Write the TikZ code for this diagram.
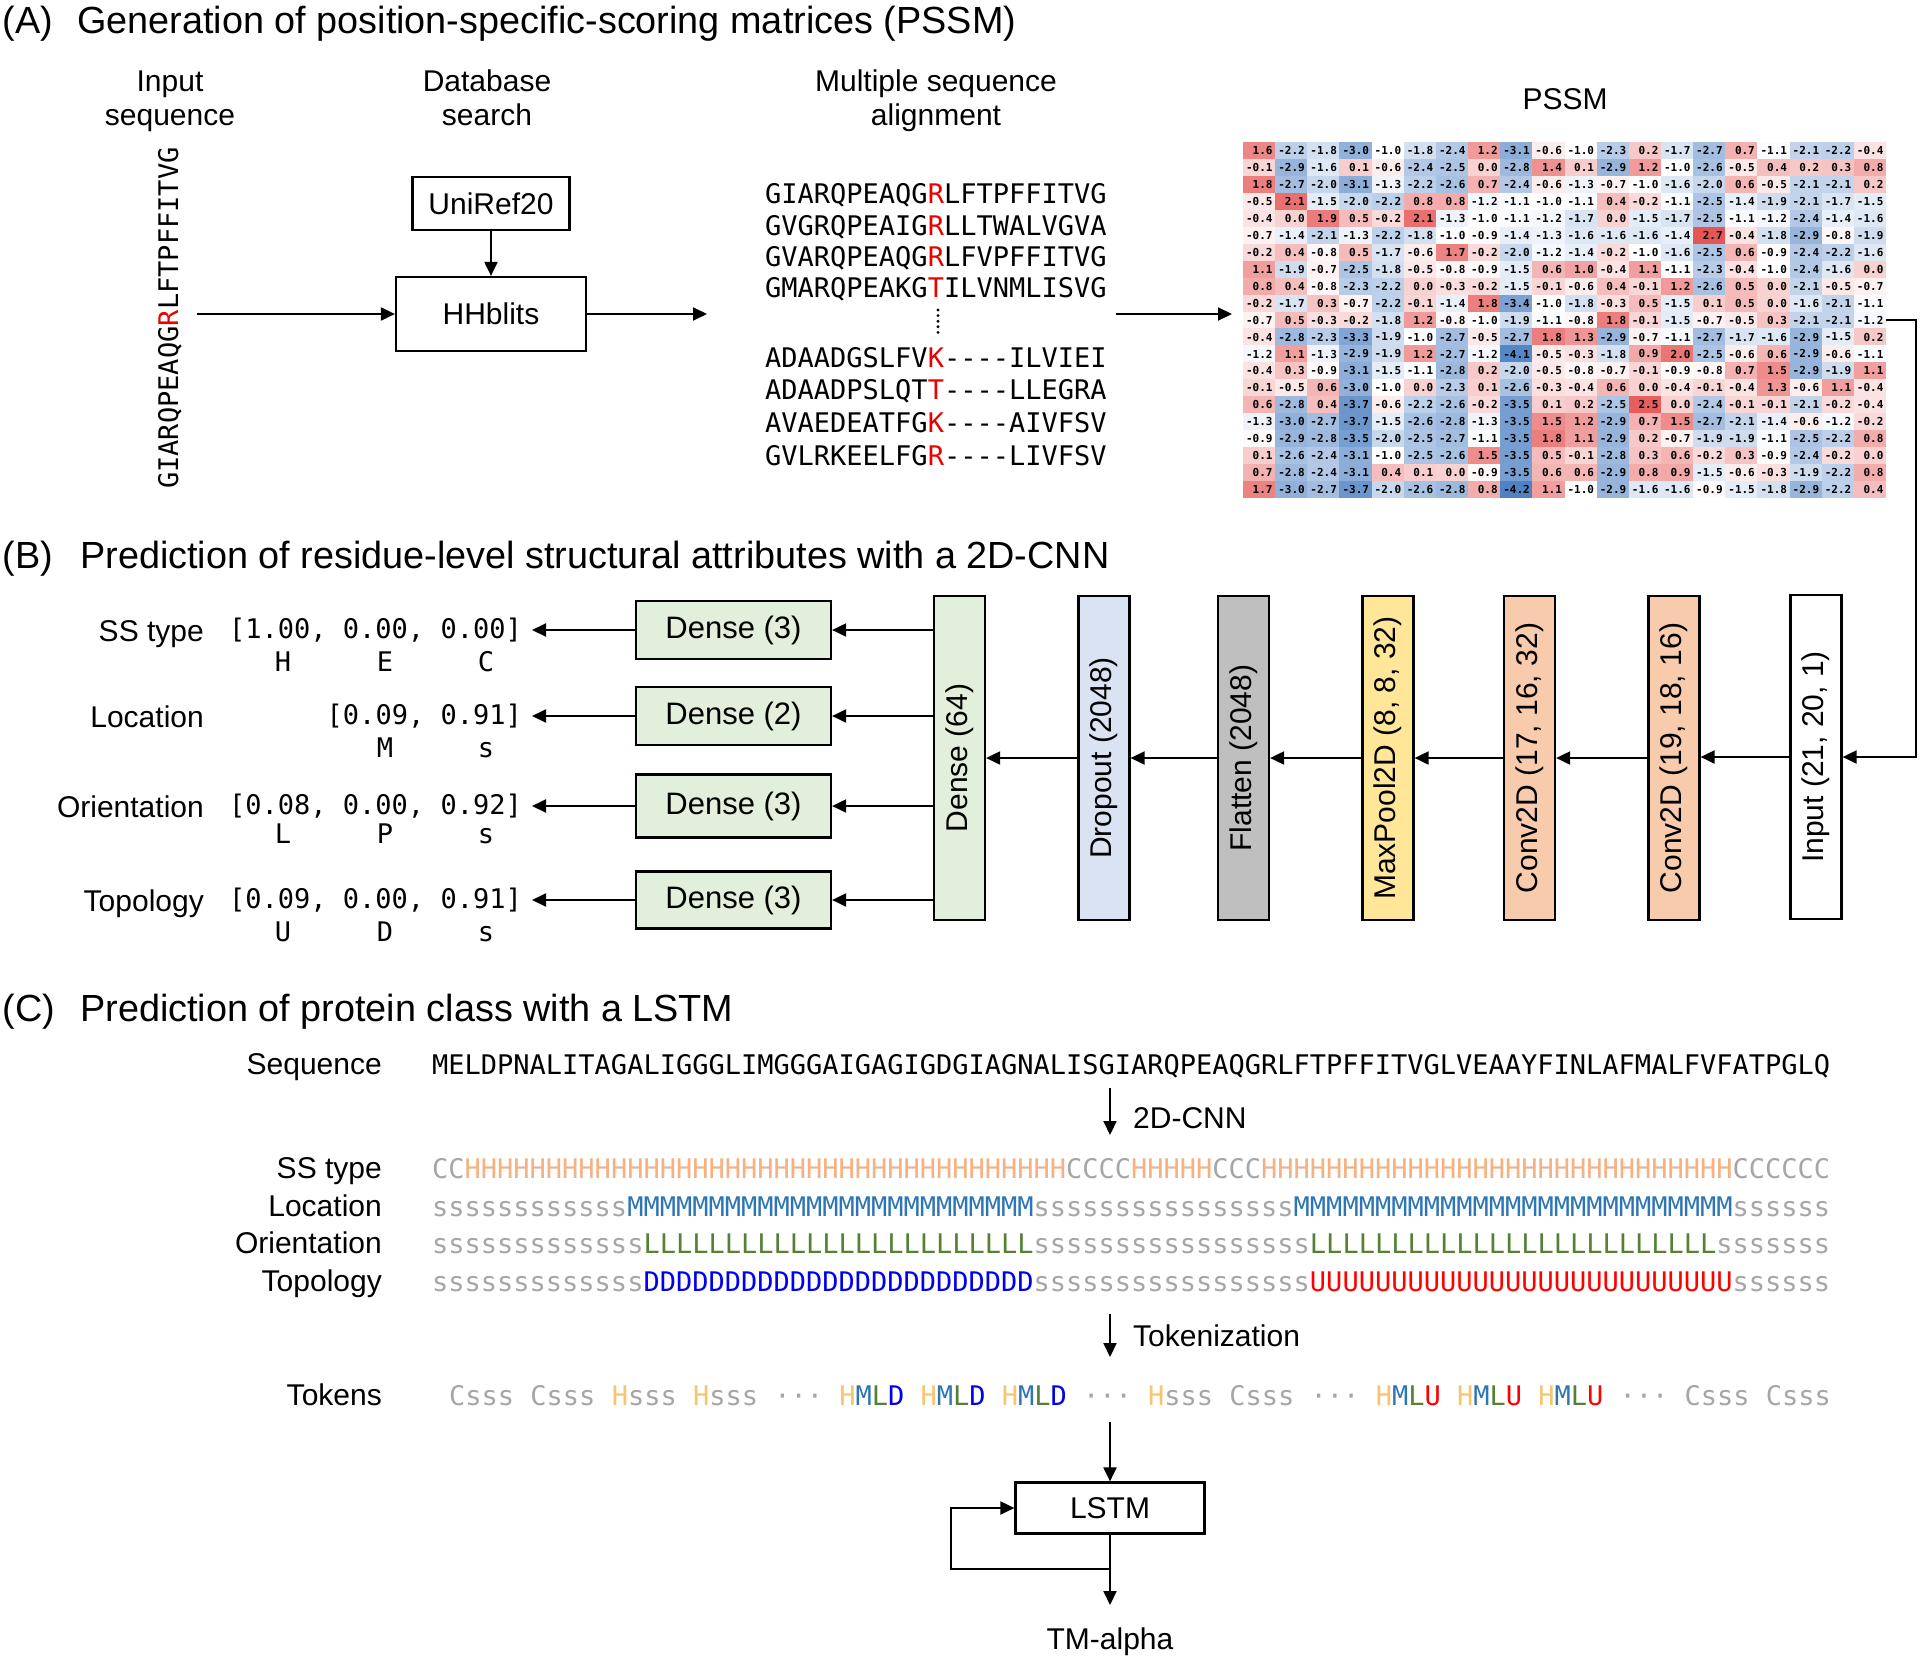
\documentclass[tikz,border=0pt]{standalone}
\usepackage{fontspec}
\setmainfont{Liberation Sans}
\setmonofont{DejaVu Sans Mono}
\usetikzlibrary{arrows.meta}

\definecolor{cgray}{HTML}{A6A6A6}
\definecolor{cpeach}{HTML}{F4B183}
\definecolor{cM}{HTML}{2E75B6}
\definecolor{cL}{HTML}{548235}
\definecolor{cD}{HTML}{0000F0}
\definecolor{cU}{HTML}{FF0000}
\definecolor{ctokH}{HTML}{F9C46E}
\definecolor{cred}{HTML}{EB0000}
\definecolor{cdense}{HTML}{E2EFDA}
\definecolor{cdrop}{HTML}{DAE3F3}
\definecolor{cflat}{HTML}{BFBFBF}
\definecolor{cpool}{HTML}{FFE699}
\definecolor{cconv}{HTML}{F8CBAD}
\definecolor{pssmR}{RGB}{225,55,55}
\definecolor{pssmB}{RGB}{36,99,180}

\newcommand\TtlFnt{\fontsize{37.8}{42}\selectfont}
\newcommand\LblFnt{\fontsize{30}{34}\selectfont}
\newcommand\BoxFnt{\fontsize{31}{35}\selectfont}
\newcommand\VFnt{\fontsize{30}{34}\selectfont}
\newcommand\MonoFnt{\ttfamily\fontsize{27}{32}\selectfont}
\newcommand\PssmFnt{\ttfamily\bfseries\fontsize{11}{12}\selectfont}
\newcommand\Rep[2]{\ifnum#1>0 #2\expandafter\Rep\expandafter{\the\numexpr#1-1\relax}{#2}\fi}
\newcommand\Gr[1]{\textcolor{cgray}{#1}}
\newcommand\TkH{\textcolor{ctokH}{H}}
\newcommand\TkMLD{\TkH\textcolor{cM}{M}\textcolor{cL}{L}\textcolor{cD}{D}}
\newcommand\TkMLU{\TkH\textcolor{cM}{M}\textcolor{cL}{L}\textcolor{cU}{U}}

\tikzset{
 arr/.style={-{Triangle[length=14pt,width=13pt]}, line width=2pt},
 box/.style={draw, line width=2.2pt, inner sep=0pt},
 lbl/.style={font=\LblFnt, inner sep=0pt},
 ttl/.style={font=\TtlFnt, inner sep=0pt, anchor=base west},
 mono/.style={font=\MonoFnt, inner sep=0pt},
 pnum/.style={font=\PssmFnt, inner sep=0pt, anchor=east},
 vbox/.style={box, minimum width=51pt, minimum height=324pt},
 vlab/.style={font=\VFnt, inner sep=0pt, rotate=90},
 dbox/.style={box, fill=cdense, minimum width=195pt, font=\BoxFnt},
}

\begin{document}
\begin{tikzpicture}[x=1pt,y=-1pt]
\fill[white] (0,0) rectangle (1920,1660);
\path[use as bounding box] (0,0) rectangle (1920,1660);

% ================= (A)
\node[ttl] (tA) at (2.5,33) {(A)};
\node[ttl] (tAt) at (77,33) {Generation of position-specific-scoring matrices (PSSM)};
\node[lbl, anchor=base] (hIn1) at (170,91) {Input};
\node[lbl, anchor=base] (hIn2) at (170,125) {sequence};
\node[lbl, anchor=base] (hDb1) at (487,91) {Database};
\node[lbl, anchor=base] (hDb2) at (487,125) {search};
\node[lbl, anchor=base] (hMs1) at (936,91) {Multiple sequence};
\node[lbl, anchor=base] (hMs2) at (936,125) {alignment};
\node[lbl, anchor=base] (hP) at (1565,109) {PSSM};

\node[mono, rotate=90, anchor=base west] (inseq) at (178,489) {GIARQPEAQG\textcolor{cred}{R}LFTPFFITVG};
\node[box, minimum width=157pt, minimum height=53pt, font=\LblFnt] (uni) at (491,203.5) {UniRef20};
\node[box, minimum width=190pt, minimum height=74pt, font=\LblFnt] (hh) at (491,314) {HHblits};
\coordinate (seqE) at (197,314);
\coordinate (msaIn) at (707,314);
\coordinate (msaOut) at (1116,314);
\coordinate (pssmIn) at (1232,314);
\draw[arr] (uni.south) -- (hh.north);
\draw[arr] (seqE) -- (hh.west);
\draw[arr] (hh.east) -- (msaIn);
\draw[arr] (msaOut) -- (pssmIn);

\node[mono, anchor=base west] (m1) at (765,203) {GIARQPEAQG\textcolor{cred}{R}LFTPFFITVG};
\node[mono, anchor=base west] (m2) at (765,235) {GVGRQPEAIG\textcolor{cred}{R}LLTWALVGVA};
\node[mono, anchor=base west] (m3) at (765,266) {GVARQPEAQG\textcolor{cred}{R}LFVPFFITVG};
\node[mono, anchor=base west] (m4) at (765,297) {GMARQPEAKG\textcolor{cred}{T}ILVNMLISVG};
\foreach \k in {0,1,2,3,4} \fill (938,310+\k*5.6) circle (1.6pt);
\node[mono, anchor=base west] (m5) at (765,367) {ADAADGSLFV\textcolor{cred}{K}----ILVIEI};
\node[mono, anchor=base west] (m6) at (765,399) {ADAADPSLQT\textcolor{cred}{T}----LLEGRA};
\node[mono, anchor=base west] (m7) at (765,432) {AVAEDEATFG\textcolor{cred}{K}----AIVFSV};
\node[mono, anchor=base west] (m8) at (765,465) {GVLRKEELFG\textcolor{cred}{R}----LIVFSV};

% PSSM matrix
\foreach \row [count=\i] in {
{1.6,-2.2,-1.8,-3.0,-1.0,-1.8,-2.4,1.2,-3.1,-0.6,-1.0,-2.3,0.2,-1.7,-2.7,0.7,-1.1,-2.1,-2.2,-0.4},
{-0.1,-2.9,-1.6,0.1,-0.6,-2.4,-2.5,0.0,-2.8,1.4,0.1,-2.9,1.2,-1.0,-2.6,-0.5,0.4,0.2,0.3,0.8},
{1.8,-2.7,-2.0,-3.1,-1.3,-2.2,-2.6,0.7,-2.4,-0.6,-1.3,-0.7,-1.0,-1.6,-2.0,0.6,-0.5,-2.1,-2.1,0.2},
{-0.5,2.1,-1.5,-2.0,-2.2,0.8,0.8,-1.2,-1.1,-1.0,-1.1,0.4,-0.2,-1.1,-2.5,-1.4,-1.9,-2.1,-1.7,-1.5},
{-0.4,0.0,1.9,0.5,-0.2,2.1,-1.3,-1.0,-1.1,-1.2,-1.7,0.0,-1.5,-1.7,-2.5,-1.1,-1.2,-2.4,-1.4,-1.6},
{-0.7,-1.4,-2.1,-1.3,-2.2,-1.8,-1.0,-0.9,-1.4,-1.3,-1.6,-1.6,-1.6,-1.4,2.7,-0.4,-1.8,-2.9,-0.8,-1.9},
{-0.2,0.4,-0.8,0.5,-1.7,-0.6,1.7,-0.2,-2.0,-1.2,-1.4,-0.2,-1.0,-1.6,-2.5,0.6,-0.9,-2.4,-2.2,-1.6},
{1.1,-1.9,-0.7,-2.5,-1.8,-0.5,-0.8,-0.9,-1.5,0.6,1.0,-0.4,1.1,-1.1,-2.3,-0.4,-1.0,-2.4,-1.6,0.0},
{0.8,0.4,-0.8,-2.3,-2.2,0.0,-0.3,-0.2,-1.5,-0.1,-0.6,0.4,-0.1,1.2,-2.6,0.5,0.0,-2.1,-0.5,-0.7},
{-0.2,-1.7,0.3,-0.7,-2.2,-0.1,-1.4,1.8,-3.4,-1.0,-1.8,-0.3,0.5,-1.5,0.1,0.5,0.0,-1.6,-2.1,-1.1},
{-0.7,0.5,-0.3,-0.2,-1.8,1.2,-0.8,-1.0,-1.9,-1.1,-0.8,1.8,-0.1,-1.5,-0.7,-0.5,0.3,-2.1,-2.1,-1.2},
{-0.4,-2.8,-2.3,-3.3,-1.9,-1.0,-2.7,-0.5,-2.7,1.8,1.3,-2.9,-0.7,-1.1,-2.7,-1.7,-1.6,-2.9,-1.5,0.2},
{-1.2,1.1,-1.3,-2.9,-1.9,1.2,-2.7,-1.2,-4.1,-0.5,-0.3,-1.8,0.9,2.0,-2.5,-0.6,0.6,-2.9,-0.6,-1.1},
{-0.4,0.3,-0.9,-3.1,-1.5,-1.1,-2.8,0.2,-2.0,-0.5,-0.8,-0.7,-0.1,-0.9,-0.8,0.7,1.5,-2.9,-1.9,1.1},
{-0.1,-0.5,0.6,-3.0,-1.0,0.0,-2.3,0.1,-2.6,-0.3,-0.4,0.6,0.0,-0.4,-0.1,-0.4,1.3,-0.6,1.1,-0.4},
{0.6,-2.8,0.4,-3.7,-0.6,-2.2,-2.6,-0.2,-3.5,0.1,0.2,-2.5,2.5,0.0,-2.4,-0.1,-0.1,-2.1,-0.2,-0.4},
{-1.3,-3.0,-2.7,-3.7,-1.5,-2.6,-2.8,-1.3,-3.5,1.5,1.2,-2.9,0.7,1.5,-2.7,-2.1,-1.4,-0.6,-1.2,-0.2},
{-0.9,-2.9,-2.8,-3.5,-2.0,-2.5,-2.7,-1.1,-3.5,1.8,1.1,-2.9,0.2,-0.7,-1.9,-1.9,-1.1,-2.5,-2.2,0.8},
{0.1,-2.6,-2.4,-3.1,-1.0,-2.5,-2.6,1.5,-3.5,0.5,-0.1,-2.8,0.3,0.6,-0.2,0.3,-0.9,-2.4,-0.2,0.0},
{0.7,-2.8,-2.4,-3.1,0.4,0.1,0.0,-0.9,-3.5,0.6,0.6,-2.9,0.8,0.9,-1.5,-0.6,-0.3,-1.9,-2.2,0.8},
{1.7,-3.0,-2.7,-3.7,-2.0,-2.6,-2.8,0.8,-4.2,1.1,-1.0,-2.9,-1.6,-1.6,-0.9,-1.5,-1.8,-2.9,-2.2,0.4}}{
  \foreach \v [count=\j] in \row {
    \pgfmathsetmacro\cx{1243+(\j-1)*32.15}
    \pgfmathsetmacro\cy{142+(\i-1)*16.95}
    \pgfmathsetmacro\pp{ifthenelse((\v)>-1,min(85,((\v)+1)*23),min(85,(-1-(\v))*25))}
    \ifdim\v pt>-1pt\relax\colorlet{cellc}{pssmR!\pp!white}\else\colorlet{cellc}{pssmB!\pp!white}\fi
    \fill[cellc] (\cx,\cy) rectangle ++(32.5,17.3);
    \node[pnum] (p\i-\j) at (\cx+29.8,\cy+8.6) {\v};
  }
}
\coordinate (pssmOut) at (1886,320);

% ================= (B)
\node[ttl] (tB) at (2.5,568) {(B)};
\node[ttl] (tBt) at (80,568) {Prediction of residue-level structural attributes with a 2D-CNN};

\node[vbox, fill=cdense] (b64) at (959.5,758) {};
\node[vlab] (b64t) at (b64.center) {Dense (64)};
\node[vbox, fill=cdrop] (bdrop) at (1104,758) {};
\node[vlab] (bdropt) at (bdrop.center) {Dropout (2048)};
\node[vbox, fill=cflat] (bflat) at (1243.5,758) {};
\node[vlab] (bflatt) at (bflat.center) {Flatten (2048)};
\node[vbox, fill=cpool] (bpool) at (1388,758) {};
\node[vlab] (bpoolt) at (bpool.center) {MaxPool2D (8, 8, 32)};
\node[vbox, fill=cconv] (bc17) at (1529.5,758) {};
\node[vlab] (bc17t) at (bc17.center) {Conv2D (17, 16, 32)};
\node[vbox, fill=cconv] (bc19) at (1674,758) {};
\node[vlab] (bc19t) at (bc19.center) {Conv2D (19, 18, 16)};
\node[vbox, fill=white] (binp) at (1816,757) {};
\node[vlab] (binpt) at (binp.center) {Input (21, 20, 1)};

\draw[arr] (pssmOut) -- ++(30,0) |- (binp.east);
\draw[arr] (binp.west) -- (bc19.east |- binp.west);
\draw[arr] (bc19.west) -- (bc17.east);
\draw[arr] (bc17.west) -- (bpool.east);
\draw[arr] (bpool.west) -- (bflat.east);
\draw[arr] (bflat.west) -- (bdrop.east);
\draw[arr] (bdrop.west) -- (b64.east);

\node[dbox, minimum height=58pt] (d1) at (733.5,630) {Dense (3)};
\node[dbox, minimum height=58pt] (d2) at (733.5,716) {Dense (2)};
\node[dbox, minimum height=63pt] (d3) at (733.5,806) {Dense (3)};
\node[dbox, minimum height=57pt] (d4) at (733.5,900) {Dense (3)};
\draw[arr] (b64.west |- d1.east) -- (d1.east);
\draw[arr] (b64.west |- d2.east) -- (d2.east);
\draw[arr] (b64.west |- d3.east) -- (d3.east);
\draw[arr] (b64.west |- d4.east) -- (d4.east);

\node[mono, anchor=east, inner xsep=10pt] (v1) at (532,630) {[1.00, 0.00, 0.00]};
\node[mono, anchor=east, inner xsep=10pt] (v2) at (532,716) {[0.09, 0.91]};
\node[mono, anchor=east, inner xsep=10pt] (v3) at (532,806) {[0.08, 0.00, 0.92]};
\node[mono, anchor=east, inner xsep=10pt] (v4) at (532,900) {[0.09, 0.00, 0.91]};
\draw[arr] (d1.west) -- (d1.west -| v1.east);
\draw[arr] (d2.west) -- (d2.west -| v2.east);
\draw[arr] (d3.west) -- (d3.west -| v3.east);
\draw[arr] (d4.west) -- (d4.west -| v4.east);

\node[lbl, anchor=base east] (n1) at (204,641) {SS type};
\node[lbl, anchor=base east] (n2) at (204,727) {Location};
\node[lbl, anchor=base east] (n3) at (204,817) {Orientation};
\node[lbl, anchor=base east] (n4) at (204,911) {Topology};

\node[mono, anchor=base] (k1a) at (283,671) {H};
\node[mono, anchor=base] (k1b) at (385,671) {E};
\node[mono, anchor=base] (k1c) at (486,671) {C};
\node[mono, anchor=base] (k2b) at (385,757) {M};
\node[mono, anchor=base] (k2c) at (486,757) {s};
\node[mono, anchor=base] (k3a) at (283,843) {L};
\node[mono, anchor=base] (k3b) at (385,843) {P};
\node[mono, anchor=base] (k3c) at (486,843) {s};
\node[mono, anchor=base] (k4a) at (283,941) {U};
\node[mono, anchor=base] (k4b) at (385,941) {D};
\node[mono, anchor=base] (k4c) at (486,941) {s};

% ================= (C)
\node[ttl] (tC) at (2.5,1021) {(C)};
\node[ttl] (tCt) at (80,1021) {Prediction of protein class with a LSTM};

\node[lbl, anchor=base east] (cSeq) at (382,1074) {Sequence};
\node[mono, anchor=base west] (rSeq) at (432,1074) {MELDPNALITAGALIGGGLIMGGGAIGAGIGDGIAGNALISGIARQPEAQGRLFTPFFITVGLVEAAYFINLAFMALFVFATPGLQ};

\coordinate (c1s) at (1110,1088);
\coordinate (c1e) at (1110,1135);
\draw[arr] (c1s) -- (c1e);
\node[lbl, anchor=base west] (cCnn) at (1133,1128) {2D-CNN};

\node[lbl, anchor=base east] (cSS) at (382,1178) {SS type};
\node[lbl, anchor=base east] (cLoc) at (382,1216) {Location};
\node[lbl, anchor=base east] (cOri) at (382,1253) {Orientation};
\node[lbl, anchor=base east] (cTop) at (382,1291) {Topology};

\node[mono, anchor=base west] (rSS) at (432,1178) {\Gr{CC}\textcolor{cpeach}{\Rep{37}{H}}\Gr{CCCC}\textcolor{cpeach}{\Rep{5}{H}}\Gr{CCC}\textcolor{cpeach}{\Rep{29}{H}}\Gr{CCCCCC}};
\node[mono, anchor=base west] (rLoc) at (432,1216) {\Gr{\Rep{12}{s}}\textcolor{cM}{\Rep{25}{M}}\Gr{\Rep{16}{s}}\textcolor{cM}{\Rep{27}{M}}\Gr{\Rep{6}{s}}};
\node[mono, anchor=base west] (rOri) at (432,1253) {\Gr{\Rep{13}{s}}\textcolor{cL}{\Rep{24}{L}}\Gr{\Rep{17}{s}}\textcolor{cL}{\Rep{25}{L}}\Gr{\Rep{7}{s}}};
\node[mono, anchor=base west] (rTop) at (432,1291) {\Gr{\Rep{13}{s}}\textcolor{cD}{\Rep{24}{D}}\Gr{\Rep{17}{s}}\textcolor{cU}{\Rep{26}{U}}\Gr{\Rep{6}{s}}};

\coordinate (c2s) at (1110,1314);
\coordinate (c2e) at (1110,1357);
\draw[arr] (c2s) -- (c2e);
\node[lbl, anchor=base west] (cTok) at (1133,1346) {Tokenization};

\node[lbl, anchor=base east] (cTk) at (382,1405) {Tokens};
\node[mono, anchor=base west] (rTk) at (449,1405) {\Gr{Csss}\ \Gr{Csss}\ \TkH\Gr{sss}\ \TkH\Gr{sss}\ \Gr{···}\ \TkMLD\ \TkMLD\ \TkMLD\ \Gr{···}\ \TkH\Gr{sss}\ \Gr{Csss}\ \Gr{···}\ \TkMLU\ \TkMLU\ \TkMLU\ \Gr{···}\ \Gr{Csss}\ \Gr{Csss}};

\node[box, minimum width=189pt, minimum height=51pt, font=\LblFnt] (lstm) at (1110,1508) {LSTM};
\coordinate (tk) at (1110,1422);
\draw[arr] (tk) -- (lstm.north);
\coordinate (lp) at (951,1569);
\draw[arr] (lstm.south) -- (lstm.south |- lp) -- (lp) |- (lstm.west);
\coordinate (outc) at (1110,1605);
\draw[arr] (lstm.south) -- (outc);
\node[lbl, anchor=base] (tma) at (1110,1649) {TM-alpha};
\end{tikzpicture}
\end{document}
